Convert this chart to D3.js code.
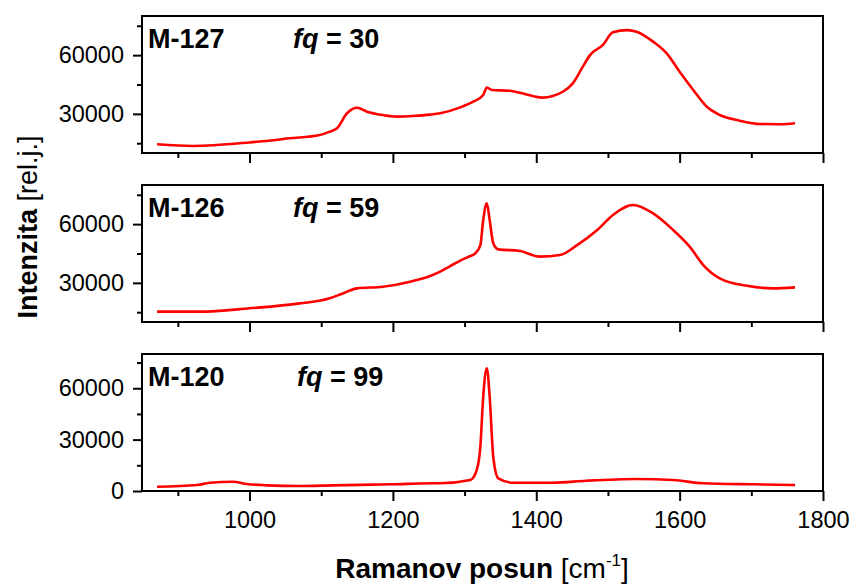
<!DOCTYPE html>
<html>
<head>
<meta charset="utf-8">
<script src="https://cdn.jsdelivr.net/npm/d3@7"></script>
<style>
  html, body { margin: 0; padding: 0; background: #fff; }
  svg { display: block; font-family: Arial, "Liberation Sans", sans-serif; }
</style>
</head>
<body>
<svg id="chart" width="853" height="586"></svg>
<script>
// Raman spectra of three samples (shift in cm^-1, intensity in rel. units)
const m127Shift = [871, 921, 1000, 1056, 1098, 1112, 1122, 1136, 1150, 1164, 1186, 1206, 1228, 1252, 1266, 1294, 1312, 1326, 1331, 1338, 1363, 1377, 1395, 1409, 1423, 1437, 1451, 1465, 1475, 1493, 1507, 1527, 1540, 1563, 1582, 1600, 1619, 1638, 1656, 1684, 1712, 1740, 1761];
const m127Intensity = [14450, 13600, 15400, 17500, 19200, 20900, 22600, 30300, 33150, 31100, 29400, 28600, 28900, 29600, 30300, 33300, 36200, 39600, 43500, 42200, 41800, 40800, 39100, 38300, 39100, 41300, 45600, 54100, 60000, 65200, 71700, 72800, 72000, 66900, 60900, 51500, 42200, 33600, 29400, 26500, 24800, 24700, 25200];

const m126Shift = [871, 931, 1000, 1070, 1112, 1130, 1150, 1186, 1224, 1252, 1266, 1280, 1294, 1305, 1315, 1322, 1326, 1331, 1335, 1340, 1347, 1377, 1405, 1433, 1457, 1485, 1507, 1535, 1563, 1591, 1614, 1633, 1656, 1694, 1730, 1761];
const m126Intensity = [15300, 15300, 17000, 19500, 22100, 24600, 27200, 28000, 30600, 33500, 35700, 38600, 41400, 43300, 45100, 49300, 62100, 70600, 62100, 50200, 47100, 46300, 43400, 44200, 49300, 57000, 64700, 69800, 65500, 57000, 48500, 39100, 32300, 28500, 27200, 27700];

const m120Shift = [871, 927, 945, 977, 996, 1024, 1070, 1116, 1200, 1252, 1266, 1308, 1317, 1322, 1326, 1331, 1335, 1340, 1347, 1368, 1423, 1470, 1540, 1591, 1633, 1703, 1761];
const m120Intensity = [2500, 3500, 4800, 5400, 4100, 3300, 2900, 3300, 3900, 4500, 4500, 6400, 12300, 25900, 55100, 71700, 55100, 20000, 7400, 4800, 4800, 6000, 7000, 6400, 4500, 3900, 3500];

const sampleNames = ["M-127", "M-126", "M-120"];
const fqValues = [30, 59, 99];

const xTicksMajor = [1000, 1200, 1400, 1600, 1800];
const xTicksMinor = [900, 1100, 1300, 1500, 1700];
const yTicksUpper = [30000, 60000];
const yTicksLower = [0, 30000, 60000];
const yTicksMinor = [15000, 45000, 75000];

const xDomain = [850, 1800];
const yDomainUpper = [10000, 80000];
const yDomainLower = [0, 80000];

// ---- layout ----
const svg = d3.select("#chart");
const left = 142, right = 823;
const panelTops = [16, 185, 354];
const panelH = 137;

const series = [
  { shift: m127Shift, intensity: m127Intensity, domain: yDomainUpper, ticks: yTicksUpper },
  { shift: m126Shift, intensity: m126Intensity, domain: yDomainUpper, ticks: yTicksUpper },
  { shift: m120Shift, intensity: m120Intensity, domain: yDomainLower, ticks: yTicksLower }
];

const x = d3.scaleLinear().domain(xDomain).range([left, right]);

series.forEach((s, i) => {
  const top = panelTops[i], bottom = top + panelH;
  const y = d3.scaleLinear().domain(s.domain).range([bottom, top]);
  const g = svg.append("g");

  // bottom axis: major and minor ticks, labels only on the last panel
  const isLast = i === series.length - 1;
  const xMaj = g.append("g").attr("transform", `translate(0,${bottom})`)
    .call(d3.axisBottom(x).tickValues(xTicksMajor).tickSize(10).tickPadding(10)
      .tickFormat(isLast ? d3.format("d") : () => ""));
  const xMin = g.append("g").attr("transform", `translate(0,${bottom})`)
    .call(d3.axisBottom(x).tickValues(xTicksMinor).tickSize(5).tickFormat(() => ""));

  // left axis
  const yMaj = g.append("g").attr("transform", `translate(${left},0)`)
    .call(d3.axisLeft(y).tickValues(s.ticks).tickSize(9).tickPadding(9).tickFormat(d3.format("d")));
  const yMin = g.append("g").attr("transform", `translate(${left},0)`)
    .call(d3.axisLeft(y).tickValues(yTicksMinor).tickSize(5).tickFormat(() => ""));

  [xMaj, xMin, yMaj, yMin].forEach(a => {
    a.select(".domain").remove();
    a.selectAll(".tick line").attr("stroke", "#000").attr("stroke-width", 2);
    a.selectAll(".tick text").attr("fill", "#000").attr("font-size", 23.5)
      .attr("font-family", "Arial, 'Liberation Sans', sans-serif");
  });

  // spectrum
  const pts = s.shift.map((v, k) => [v, s.intensity[k]]);
  g.append("path")
    .datum(pts)
    .attr("fill", "none")
    .attr("stroke", "#ff0000")
    .attr("stroke-width", 2.6)
    .attr("stroke-linejoin", "round")
    .attr("d", d3.line().x(d => x(d[0])).y(d => y(d[1])).curve(d3.curveMonotoneX));

  // frame
  g.append("rect")
    .attr("x", left).attr("y", top)
    .attr("width", right - left).attr("height", panelH)
    .attr("fill", "none").attr("stroke", "#000").attr("stroke-width", 2);

  // sample name and fq
  g.append("text")
    .attr("x", 148).attr("y", top + 32)
    .attr("font-size", 27).attr("font-weight", "bold")
    .text(sampleNames[i]);
  const fq = g.append("text")
    .attr("x", i === 2 ? 297 : 293).attr("y", top + 32)
    .attr("font-size", 27).attr("font-weight", "bold");
  fq.append("tspan").attr("font-style", "italic").text("fq");
  fq.append("tspan").text(" = " + fqValues[i]);
});

// axis titles
const yTitle = svg.append("text")
  .attr("transform", "translate(37,227) rotate(-90)")
  .attr("text-anchor", "middle")
  .attr("font-size", 27);
yTitle.append("tspan").attr("font-weight", "bold").text("Intenzita");
yTitle.append("tspan").text(" [rel.j.]");

const xTitle = svg.append("text")
  .attr("x", 482).attr("y", 578)
  .attr("text-anchor", "middle")
  .attr("font-size", 28);
xTitle.append("tspan").attr("font-weight", "bold").text("Ramanov posun");
xTitle.append("tspan").text(" [cm");
xTitle.append("tspan").attr("font-size", 17).attr("dy", -12).text("-1");
xTitle.append("tspan").attr("dy", 12).text("]");
</script>
</body>
</html>
